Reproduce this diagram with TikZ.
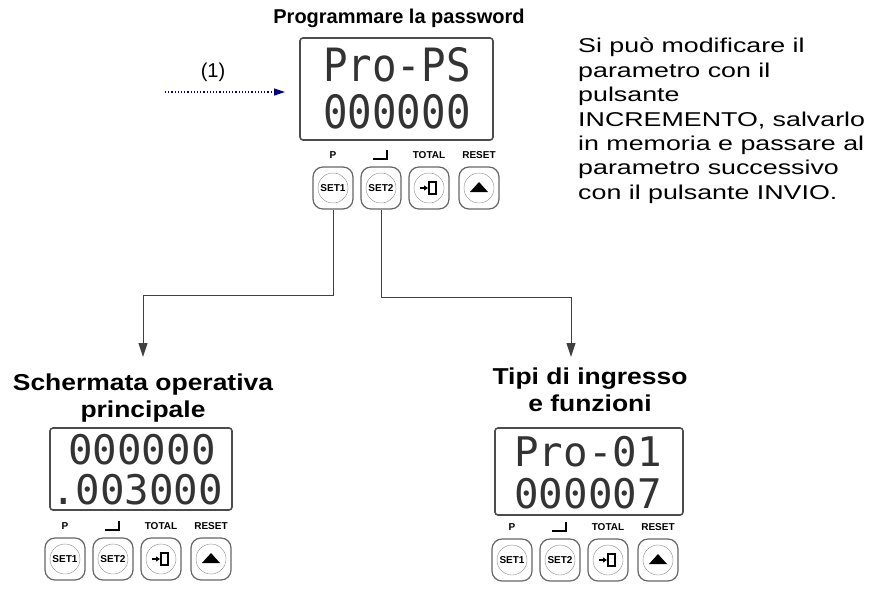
\documentclass[tikz,border=0pt]{standalone}
\usepackage{fontspec}
\usepackage{graphicx}
\setmainfont{Liberation Sans}
\newfontfamily\segfont{DejaVu Sans Mono}
\usetikzlibrary{arrows.meta,calc}
\newcommand\segtxt[1]{\scalebox{1.2}[1.35]{#1}}
\newcommand\segsm[1]{\scalebox{1.2}[1.2]{#1}}
\begin{document}
\begin{tikzpicture}[x=1pt,y=-1pt,
  disp/.style={draw=black!70,line width=1.6pt,rounded corners=3pt},
  seg/.style={font=\segfont\fontsize{34}{34}\selectfont,text=black!80,inner sep=0pt},
  btn/.style={draw=black!60,line width=1.2pt,rounded corners=10pt,minimum width=40pt,minimum height=42pt,inner sep=0pt,font=\bfseries\fontsize{10}{10}\selectfont},
  blab/.style={font=\bfseries\fontsize{10}{10}\selectfont,inner sep=0pt},
  title/.style={font=\bfseries\fontsize{23}{27}\selectfont,inner sep=0pt,align=center},
  conn/.style={draw=black!75,line width=1pt},
  tip/.style={-{Triangle[length=14pt,width=9pt]}}]
\useasboundingbox (0,0) rectangle (878,598);
\newcommand\keypad[3]{% x of first, y center, prefix
  \foreach \i/\t in {0/SET1,1/SET2}{
    \node[btn] (#3b\i) at (#1+\i*48,#2) {\t};
    \draw[black!45] (#3b\i.center) circle (15pt);}
  \node[btn] (#3b2) at (#1+96,#2) {};
  \draw[black!45] (#3b2.center) circle (15pt);
  \draw[line width=1.6pt] ($(#3b2.center)+(0,-6)$) rectangle ($(#3b2.center)+(7,6)$);
  \draw[line width=1.6pt,-{Triangle[length=4pt,width=5pt]}] ($(#3b2.center)+(-9,0)$) -- ($(#3b2.center)+(-1,0)$);
  \node[btn] (#3b3) at (#1+146,#2) {};
  \draw[black!45] (#3b3.center) circle (15pt);
  \fill ($(#3b3.center)+(-9,4)$) -- ++(18,0) -- ++(-9,-10) -- cycle;
  \node[blab] (#3l0) at (#1,#2-33) {P};
  \draw[line width=2.5pt] (#1+40,#2-29) -- (#1+54,#2-29) -- (#1+54,#2-38);
  \node[blab] (#3l2) at (#1+96,#2-33) {TOTAL};
  \node[blab] (#3l3) at (#1+146,#2-33) {RESET};
}
% top device
\node[font=\bfseries\fontsize{20}{20}\selectfont,inner sep=0pt] (t1) at (399,18) {Programmare la password};
\draw[disp] (300,38) rectangle (493,140);
\node[seg] (d1a) at (397,65) {\segtxt{Pro-PS}};
\node[seg] (d1b) at (397,112) {\segtxt{000000}};
\keypad{333}{188}{a}
% (1)
\node[font=\fontsize{20}{20}\selectfont] (one) at (213,72) {(1)};
\coordinate (s1) at (165,92);
\coordinate (e1) at (285,92);
\draw[dotted,line width=1.2pt,blue!50!black,-{Triangle[length=11pt,width=7pt]}] (s1) -- (e1);
\node[align=left,anchor=north west,inner sep=0pt] (desc) at (578,38)
 {\scalebox{1.34}[1]{\parbox[t]{240pt}{\fontsize{20}{24.4}\selectfont Si può modificare il\\parametro con il\\pulsante\\INCREMENTO, salvarlo\\in memoria e passare al\\parametro successivo\\con il pulsante INVIO.}}};
% bottom left
\node[title] (t2) at (143,398) {\scalebox{1.15}[1]{Schermata operativa}\\\scalebox{1.15}[1]{principale}};
\draw[disp] (50,428) rectangle (232,510);
\node[seg] (d2a) at (142,450) {\segsm{000000}};
\node[seg] (d2b) at (137,490) {\segsm{.003000}};
\keypad{65}{559}{b}
% bottom right
\node[title] (t3) at (590,390) {\scalebox{1.15}[1]{Tipi di ingresso}\\\scalebox{1.15}[1]{e funzioni}};
\draw[disp] (495,428) rectangle (683,515);
\node[seg] (d3a) at (588,452) {\segsm{Pro-01}};
\node[seg] (d3b) at (588,494) {\segsm{000007}};
\keypad{512}{560}{c}
% connectors
\coordinate (L) at (143,357);
\coordinate (R) at (571,357);
\draw[conn,tip] (ab0.south) -- ++(0,86) -| (L);
\draw[conn,tip] (ab1.south) -- ++(0,88) -| (R);
\end{tikzpicture}
\end{document}
